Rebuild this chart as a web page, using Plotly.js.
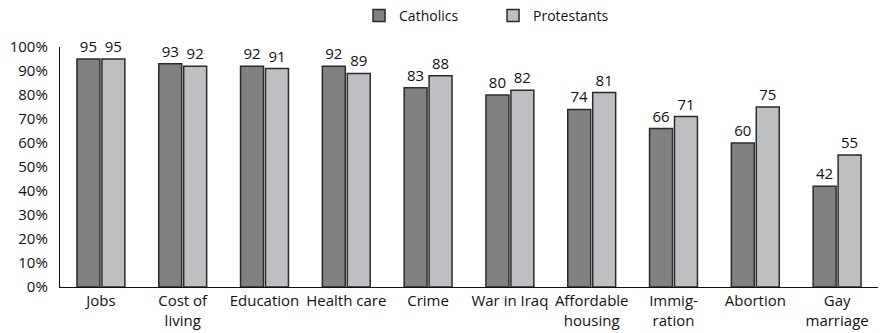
<!DOCTYPE html>
<html>
<head>
<meta charset="utf-8">
<script src="https://cdn.plot.ly/plotly-3.0.1.min.js"></script>
<style>
  html, body { margin: 0; padding: 0; background: #fff; }
  #chart { width: 880px; height: 333px; }
</style>
</head>
<body>
<div id="chart"></div>
<script>
// Issue categories (line breaks as shown under the axis)
const categories = [
  "Jobs", "Cost of<br>living", "Education", "Health care", "Crime",
  "War in Iraq", "Affordable<br>housing", "Immig-<br>ration", "Abortion", "Gay<br>marriage"
];
// Share of each group rating the issue as important (%)
const catholics   = [95, 93, 92, 92, 83, 80, 74, 66, 60, 42];
const protestants = [95, 92, 91, 89, 88, 82, 81, 71, 75, 55];
const yTickVals   = [0, 10, 20, 30, 40, 50, 60, 70, 80, 90, 100];
const yTickText   = yTickVals.map(v => v + "%");

const FONT = "'Open Sans', Lato, sans-serif";

function barTrace(name, values, color) {
  return {
    type: "bar",
    name: name,
    x: categories,
    y: values,
    text: values.map(String),
    textposition: "outside",
    textfont: { family: FONT, size: 15, color: "#111" },
    cliponaxis: false,
    marker: { color: color, line: { color: "#2b2b2b", width: 1.5 } },
    hoverinfo: "x+y"
  };
}

const data = [
  barTrace("Catholics", catholics, "#818184"),
  barTrace("Protestants", protestants, "#bebfc3")
];

const layout = {
  width: 880,
  height: 333,
  margin: { l: 60, r: 2, t: 47, b: 46 },
  paper_bgcolor: "#fff",
  plot_bgcolor: "#fff",
  font: { family: FONT, size: 15, color: "#111" },
  barmode: "group",
  bargap: 0.39,
  bargroupgap: 0.08,
  showlegend: true,
  legend: {
    orientation: "h",
    x: 0.408, xanchor: "left",
    y: 1.0, yanchor: "top",
    xref: "container",
    yref: "container",
    font: { family: FONT, size: 14, color: "#111" },
    itemwidth: 30,
    entrywidth: 89,
    traceorder: "normal"
  },
  xaxis: {
    type: "category",
    showline: true, linecolor: "#111", linewidth: 1.2,
    ticks: "", showgrid: false, zeroline: false,
    tickfont: { family: FONT, size: 15, color: "#111" }
  },
  yaxis: {
    range: [0, 100],
    tickvals: yTickVals,
    ticktext: yTickText,
    showline: true, linecolor: "#111", linewidth: 1.2,
    ticks: "", showgrid: false, zeroline: false,
    ticklabelstandoff: 8,
    tickfont: { family: FONT, size: 15, color: "#111" }
  }
};

Plotly.newPlot("chart", data, layout, { staticPlot: true, displayModeBar: false });
</script>
</body>
</html>
